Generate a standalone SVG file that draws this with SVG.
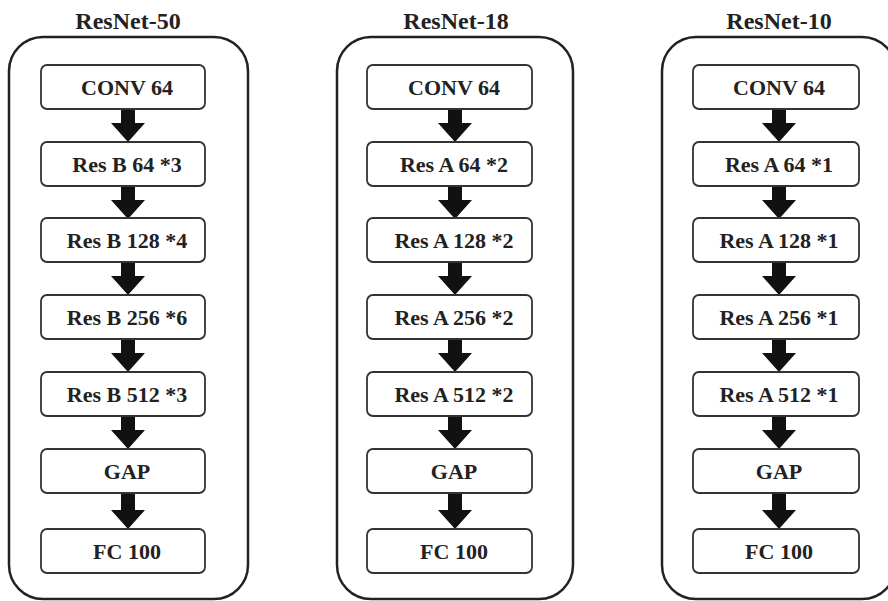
<svg xmlns="http://www.w3.org/2000/svg" width="888" height="601" viewBox="0 0 888 601">
<defs>
<style>
.cont{fill:none;stroke:#222;stroke-width:2.5}
.box{fill:#fff;stroke:#333;stroke-width:1.8}
text{font-family:'Liberation Serif','DejaVu Serif',serif;font-weight:bold;fill:#222;text-anchor:middle}
.title{font-size:24px}
.lbl{font-size:22px}
.arr{fill:#111}
</style>
<path id="arw" d="M-7,0 H7 V14 H17 L0,33 L-17,14 H-7 Z"/>
</defs>
<rect width="888" height="601" fill="#fff"/>
<g id="resnet50">
<text class="title" x="128" y="29" font-family="Liberation Serif, serif">ResNet-50</text>
<rect class="cont" x="9" y="37" width="239" height="562" rx="34"/>
</g>
<g id="resnet18">
<text class="title" x="456" y="29" font-family="Liberation Serif, serif">ResNet-18</text>
<rect class="cont" x="337" y="37" width="236" height="562" rx="34"/>
</g>
<g id="resnet10">
<text class="title" x="779" y="29" font-family="Liberation Serif, serif">ResNet-10</text>
<rect class="cont" x="662" y="37" width="234" height="562" rx="34"/>
</g>
<g id="connectors" class="arr">
<use href="#arw" x="128" y="109"/>
<use href="#arw" x="128" y="186"/>
<use href="#arw" x="128" y="262"/>
<use href="#arw" x="128" y="339"/>
<use href="#arw" x="128" y="416"/>
<path d="M121,493 H135 V510 H145 L128,529 L111,510 H121 Z"/>
<use href="#arw" x="455" y="109"/>
<use href="#arw" x="455" y="186"/>
<use href="#arw" x="455" y="262"/>
<use href="#arw" x="455" y="339"/>
<use href="#arw" x="455" y="416"/>
<path d="M448,493 H462 V510 H472 L455,529 L438,510 H448 Z"/>
<use href="#arw" x="779" y="109"/>
<use href="#arw" x="779" y="186"/>
<use href="#arw" x="779" y="262"/>
<use href="#arw" x="779" y="339"/>
<use href="#arw" x="779" y="416"/>
<path d="M772,493 H786 V510 H796 L779,529 L762,510 H772 Z"/>
</g>
<g font-family="Liberation Serif, serif">
<g id="l-conv"><rect class="box" x="41" y="65" width="164" height="44" rx="6"/><text class="lbl" x="127" y="95">CONV 64</text></g>
<g id="l-res64"><rect class="box" x="41" y="142" width="164" height="44" rx="6"/><text class="lbl" x="127" y="172">Res B 64 *3</text></g>
<g id="l-res128"><rect class="box" x="41" y="218" width="164" height="44" rx="6"/><text class="lbl" x="127" y="248">Res B 128 *4</text></g>
<g id="l-res256"><rect class="box" x="41" y="295" width="164" height="44" rx="6"/><text class="lbl" x="127" y="325">Res B 256 *6</text></g>
<g id="l-res512"><rect class="box" x="41" y="372" width="164" height="44" rx="6"/><text class="lbl" x="127" y="402">Res B 512 *3</text></g>
<g id="l-gap"><rect class="box" x="41" y="449" width="164" height="44" rx="6"/><text class="lbl" x="127" y="479">GAP</text></g>
<g id="l-fc"><rect class="box" x="41" y="529" width="164" height="44" rx="6"/><text class="lbl" x="127" y="559">FC 100</text></g>
<g id="m-conv"><rect class="box" x="367" y="65" width="165" height="44" rx="6"/><text class="lbl" x="454" y="95">CONV 64</text></g>
<g id="m-res64"><rect class="box" x="367" y="142" width="165" height="44" rx="6"/><text class="lbl" x="454" y="172">Res A 64 *2</text></g>
<g id="m-res128"><rect class="box" x="367" y="218" width="165" height="44" rx="6"/><text class="lbl" x="454" y="248">Res A 128 *2</text></g>
<g id="m-res256"><rect class="box" x="367" y="295" width="165" height="44" rx="6"/><text class="lbl" x="454" y="325">Res A 256 *2</text></g>
<g id="m-res512"><rect class="box" x="367" y="372" width="165" height="44" rx="6"/><text class="lbl" x="454" y="402">Res A 512 *2</text></g>
<g id="m-gap"><rect class="box" x="367" y="449" width="165" height="44" rx="6"/><text class="lbl" x="454" y="479">GAP</text></g>
<g id="m-fc"><rect class="box" x="367" y="529" width="165" height="44" rx="6"/><text class="lbl" x="454" y="559">FC 100</text></g>
<g id="r-conv"><rect class="box" x="693" y="65" width="166" height="44" rx="6"/><text class="lbl" x="779" y="95">CONV 64</text></g>
<g id="r-res64"><rect class="box" x="693" y="142" width="166" height="44" rx="6"/><text class="lbl" x="779" y="172">Res A 64 *1</text></g>
<g id="r-res128"><rect class="box" x="693" y="218" width="166" height="44" rx="6"/><text class="lbl" x="779" y="248">Res A 128 *1</text></g>
<g id="r-res256"><rect class="box" x="693" y="295" width="166" height="44" rx="6"/><text class="lbl" x="779" y="325">Res A 256 *1</text></g>
<g id="r-res512"><rect class="box" x="693" y="372" width="166" height="44" rx="6"/><text class="lbl" x="779" y="402">Res A 512 *1</text></g>
<g id="r-gap"><rect class="box" x="693" y="449" width="166" height="44" rx="6"/><text class="lbl" x="779" y="479">GAP</text></g>
<g id="r-fc"><rect class="box" x="693" y="529" width="166" height="44" rx="6"/><text class="lbl" x="779" y="559">FC 100</text></g>
</g>
</svg>
